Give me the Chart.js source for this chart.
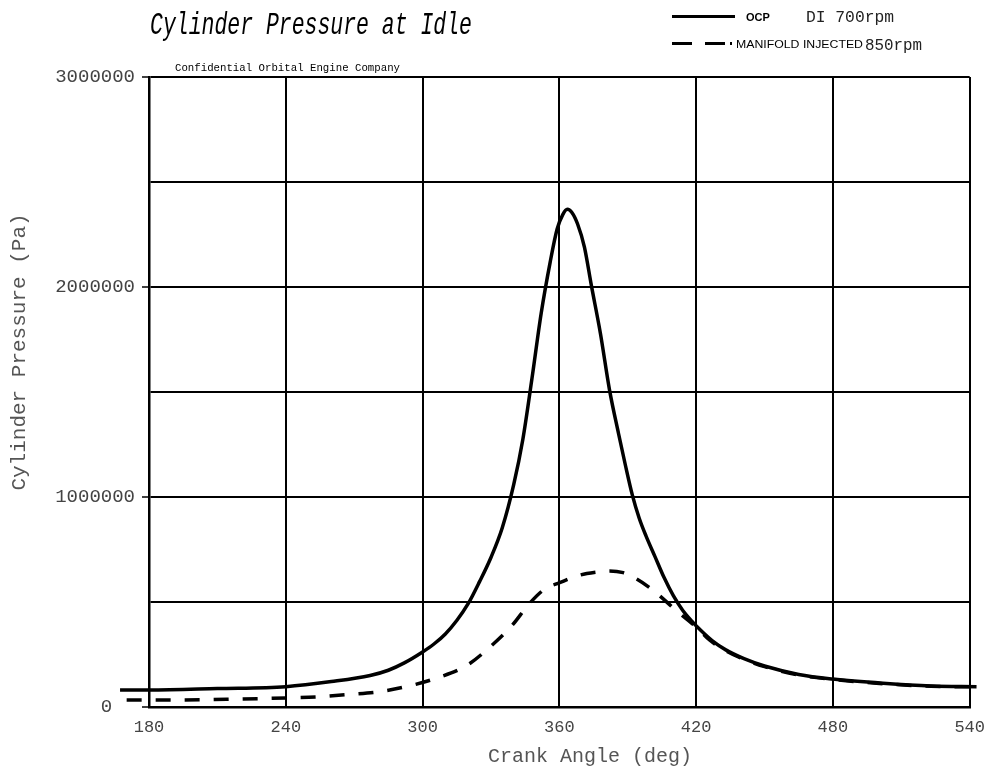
<!DOCTYPE html>
<html>
<head>
<meta charset="utf-8">
<script src="https://cdn.jsdelivr.net/npm/chart.js@4/dist/chart.umd.min.js"></script>
<style>
  html, body { margin: 0; padding: 0; background: #fff; }
  canvas { display: block; }
</style>
</head>
<body>
<canvas id="pressureChart" width="995" height="771"></canvas>
<script>
// OCP direct injection, 700rpm
const ocpAngle = [167.3, 180, 210, 240, 260, 277, 285, 292, 300, 305, 310, 315, 320, 325, 330, 335, 340, 344, 348, 352, 356, 359, 361.5, 363.5, 365.5, 368, 371, 374, 378, 382, 386, 389, 392, 395, 398, 402, 406, 410, 414, 418, 422, 427, 433, 441, 450, 465, 480, 502, 523, 543];
const ocpPressure = [81000, 81000, 88000, 97000, 121000, 150000, 175000, 210000, 262000, 300000, 348000, 412000, 492000, 597000, 712000, 855000, 1060000, 1275000, 1565000, 1873000, 2120000, 2275000, 2345000, 2370000, 2355000, 2300000, 2190000, 2010000, 1780000, 1510000, 1300000, 1150000, 1010000, 900000, 815000, 715000, 615000, 530000, 462000, 410000, 365000, 316000, 272000, 230000, 195000, 155000, 133000, 113000, 100000, 97000];

// manifold injected, 850rpm
const mpiAngle = [170.2, 188, 217, 240, 255, 268, 281, 294, 306, 319, 329, 339, 347, 354, 359.4, 369, 376, 382, 388, 392, 401, 411, 420.6, 426, 433, 441, 450, 465, 480, 502, 523, 543];
const mpiPressure = [33000, 33000, 37000, 43000, 49000, 60000, 73000, 100000, 137000, 195000, 280000, 385000, 494000, 565000, 589000, 628000, 642000, 648000, 640000, 621000, 557000, 462000, 375000, 318000, 268000, 227000, 192000, 152000, 131000, 111000, 99000, 96000];

const xTicks = [180, 240, 300, 360, 420, 480, 540];
const yLabels = [0, 1000000, 2000000, 3000000];

const toPoints = (xs, ys) => xs.map((x, i) => ({ x: x, y: ys[i] }));

// 文字まわり（タイトル・凡例・軸タイトル）
const textPlugin = {
    id: 'textPlugin',
    afterDraw(chart) {
        const ctx = chart.ctx;
        const fitText = (text, font, x, y, width) => {
            ctx.save();
            ctx.font = font;
            const w = ctx.measureText(text).width;
            ctx.translate(x, y);
            ctx.scale(width / w, 1);
            ctx.fillText(text, 0, 0);
            ctx.restore();
        };
        ctx.save();
        ctx.fillStyle = '#000';
        ctx.textBaseline = 'alphabetic';
        ctx.textAlign = 'left';
        fitText('Cylinder Pressure at Idle', 'italic 32px "Liberation Mono"', 150, 34, 322);
        fitText('Confidential Orbital Engine Company', '11px "Liberation Mono"', 175, 71, 225);

        // legend
        ctx.strokeStyle = '#000';
        ctx.lineWidth = 3;
        ctx.beginPath();
        ctx.moveTo(672, 16.5);
        ctx.lineTo(735, 16.5);
        ctx.stroke();
        ctx.setLineDash([20, 13, 20, 5, 2, 100]);
        ctx.beginPath();
        ctx.moveTo(672, 43.5);
        ctx.lineTo(733, 43.5);
        ctx.stroke();
        ctx.setLineDash([]);

        ctx.font = 'bold 11px "Liberation Sans"';
        ctx.fillText('OCP', 746, 21);
        ctx.fillStyle = '#222';
        fitText('DI 700rpm', '16px "Liberation Mono"', 806, 22, 88);
        ctx.fillStyle = '#000';
        fitText('MANIFOLD INJECTED', '10px "Liberation Sans"', 736, 48, 127);
        ctx.fillStyle = '#222';
        fitText('850rpm', '17px "Liberation Mono"', 865, 50, 57);

        // axis titles
        ctx.fillStyle = '#555';
        ctx.textAlign = 'center';
        ctx.textBaseline = 'middle';
        ctx.font = '20px "Liberation Mono"';
        ctx.fillText('Crank Angle (deg)', 590, 757);
        ctx.translate(19, 352);
        ctx.rotate(-Math.PI / 2);
        ctx.font = '21px "Liberation Mono"';
        ctx.fillText('Cylinder Pressure (Pa)', 0, 0);
        ctx.restore();
    }
};

const canvas = document.getElementById('pressureChart');
new Chart(canvas.getContext('2d'), {
    type: 'line',
    data: {
        datasets: [
            {
                label: 'OCP DI 700rpm',
                data: toPoints(ocpAngle, ocpPressure),
                borderColor: '#000',
                borderWidth: 3.5,
                pointRadius: 0,
                cubicInterpolationMode: 'monotone',
                clip: false
            },
            {
                label: 'MANIFOLD INJECTED 850rpm',
                data: toPoints(mpiAngle, mpiPressure),
                borderColor: '#000',
                borderWidth: 3.5,
                borderDash: [15, 14],
                pointRadius: 0,
                cubicInterpolationMode: 'monotone',
                clip: false
            }
        ]
    },
    options: {
        responsive: false,
        animation: false,
        layout: { padding: { left: 0, top: 77, right: 25, bottom: 0 } },
        plugins: {
            legend: { display: false },
            tooltip: { enabled: false },
            title: { display: false }
        },
        scales: {
            x: {
                type: 'linear',
                min: 180,
                max: 540,
                afterBuildTicks: (scale) => { scale.ticks = xTicks.map(v => ({ value: v })); },
                afterFit: (scale) => { scale.height = 64; },
                ticks: {
                    color: '#444',
                    padding: 10,
                    font: { family: '"Liberation Mono"', size: 17 },
                    maxRotation: 0,
                    callback: (v) => String(v)
                },
                grid: { color: '#000', lineWidth: 2, drawTicks: false },
                border: { color: '#000', width: 2.5 }
            },
            y: {
                min: 0,
                max: 3000000,
                ticks: {
                    stepSize: 500000,
                    color: '#444',
                    padding: 7,
                    font: { family: '"Liberation Mono"', size: 19 },
                    // 0 だけ少し左に寄っている
                    callback: (v) => v === 0 ? '0  ' : (yLabels.includes(v) ? String(v) : '')
                },
                afterFit: (scale) => { scale.width = 149; },
                grid: {
                    color: '#000',
                    lineWidth: 2,
                    tickLength: 7,
                    tickColor: (c) => (c.tick && yLabels.includes(c.tick.value)) ? '#000' : 'rgba(0,0,0,0)',
                    tickWidth: 1.5
                },
                border: { color: '#000', width: 2.5 }
            }
        }
    },
    plugins: [textPlugin]
});
</script>
</body>
</html>
